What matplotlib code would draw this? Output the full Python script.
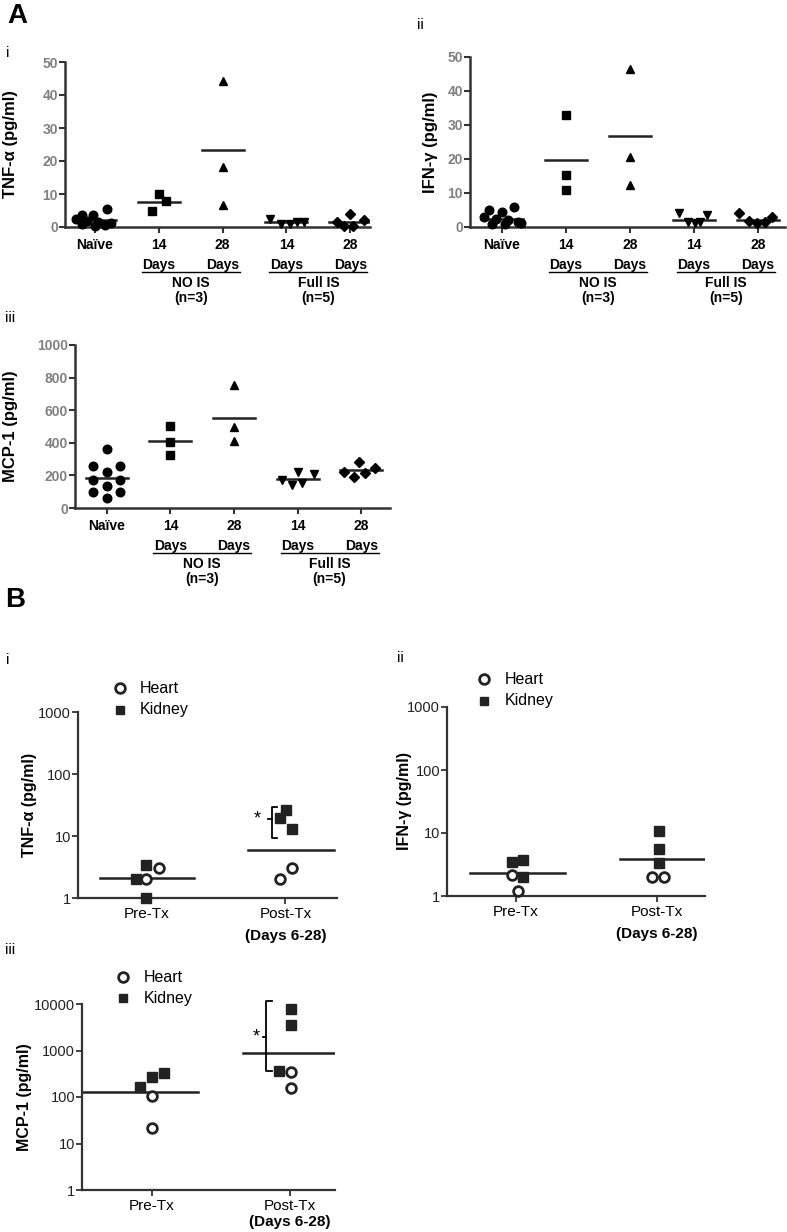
import numpy as np
import matplotlib
matplotlib.use("Agg")
import matplotlib.pyplot as plt
from matplotlib import transforms

plt.rcParams['font.family'] = ['Liberation Sans', 'DejaVu Sans']

# ---- panel A data (linear scale) ----
a_days = ["Naïve", "14", "28", "14", "28"]
a_markers = ['o', 's', '^', 'v', 'D']

tnf_a = [[3.6, 3.6, 5.4, 2.5, 1.8, 1.5, 1.2, 0.8, 0.3, 0.6],
         [4.85, 9.9, 7.8],
         [44.1, 18.2, 6.8],
         [2.3, 0.8, 1.0, 1.4, 1.6],
         [3.8, 1.5, 2.0, 0.2, 0.2]]
tnf_a_dx = [[-0.21, -0.03, 0.19, -0.30, -0.12, 0.05, 0.25, -0.2, 0.0, 0.15],
            [-0.10, 0.0, 0.11],
            [0, 0, 0],
            [-0.25, -0.08, 0.05, 0.17, 0.27],
            [0.0, -0.21, 0.21, -0.10, 0.05]]
tnf_a_line = [2.0, 7.7, 23.4, 1.5, 1.4]

ifn_a = [[5.0, 4.3, 5.8, 3.0, 2.5, 2.0, 1.5, 1.0, 0.8, 1.2],
         [33.0, 15.2, 10.8],
         [46.4, 20.6, 12.5],
         [4.0, 1.5, 1.2, 1.6, 3.4],
         [4.2, 1.8, 1.2, 1.5, 3.0]]
ifn_a_dx = [[-0.21, 0.0, 0.18, -0.28, -0.1, 0.1, 0.25, -0.15, 0.05, 0.3],
            [0, 0, 0],
            [0, 0, 0],
            [-0.24, -0.1, 0.02, 0.1, 0.2],
            [-0.3, -0.15, -0.02, 0.1, 0.22]]
ifn_a_line = [2.45, 19.8, 26.7, 2.2, 2.0]

mcp_a = [[362, 259, 255, 219, 172, 172, 135, 96, 96, 63],
         [500, 402, 327],
         [755, 499, 411],
         [172, 141, 223, 155, 207],
         [219, 188, 284, 213, 247]]
mcp_a_dx = [[0, -0.21, 0.21, 0, -0.21, 0.21, 0, -0.21, 0.21, 0],
            [0, 0, 0],
            [0, 0, 0],
            [-0.25, -0.09, 0, 0.06, 0.26],
            [-0.28, -0.12, -0.03, 0.05, 0.22]]
mcp_a_line = [184, 412, 555, 176, 233]

# ---- panel B data (log scale) ----
b_groups = ["Pre-Tx", "Post-Tx"]

tnf_heart = [[2.0, 3.0], [2.0, 3.0]]
tnf_heart_dx = [[0.0, 0.09], [-0.036, 0.048]]
tnf_kidney = [[2.0, 3.4, 1.0], [19.5, 25.8, 12.9]]
tnf_kidney_dx = [[-0.077, 0.0, 0.0], [-0.036, 0.007, 0.048]]
tnf_b_line = [2.1, 6.0]

ifn_heart = [[2.15, 1.2], [2.0, 2.0]]
ifn_heart_dx = [[-0.03, 0.012], [-0.035, 0.052]]
ifn_kidney = [[3.5, 3.7, 2.0], [10.8, 5.6, 3.4]]
ifn_kidney_dx = [[-0.03, 0.052, 0.052], [0.012, 0.012, 0.012]]
ifn_b_line = [2.3, 3.8]

mcp_heart = [[103, 22], [338, 155]]
mcp_heart_dx = [[0.0, 0.0], [0.007, 0.007]]
mcp_kidney = [[168, 264, 326], [7800, 3590, 366]]
mcp_kidney_dx = [[-0.085, 0.0, 0.085], [0.007, 0.007, -0.077]]
mcp_b_line = [127, 877]

W, H = 787, 1232
fig = plt.figure(figsize=(W / 100, H / 100), dpi=100)


def axes_px(l, r, t, b):
    return fig.add_axes([l / W, 1 - b / H, (r - l) / W, (b - t) / H])


def below(ax, x, dy, s, **kw):
    ax.annotate(s, xy=(x, 0), xycoords=ax.get_xaxis_transform(),
                xytext=(0, -dy * 0.72), textcoords='offset points',
                ha='center', va='center', annotation_clip=False, **kw)


def panel_a(ax, vals, dxs, lines, ymax, ystep, ylabel, xlim, labx):
    for i, (v, d) in enumerate(zip(vals, dxs)):
        ms = 5.2 if a_markers[i] == 'D' else 6.2
        ax.plot(np.array(d) + i, v, ls='none', marker=a_markers[i],
                ms=ms, color='black', clip_on=False, zorder=3)
        ax.plot([i - 0.33, i + 0.33], [lines[i], lines[i]], color='#222222',
                lw=1.8, zorder=2)
    ax.set_xlim(*xlim)
    ax.set_ylim(0, ymax)
    ax.set_yticks(np.arange(0, ymax + 1, ystep))
    ax.set_xticks(range(5))
    ax.set_xticklabels([])
    for s in ['top', 'right']:
        ax.spines[s].set_visible(False)
    for s in ['left', 'bottom']:
        ax.spines[s].set_color('#333333')
        ax.spines[s].set_linewidth(1.8)
    ax.tick_params(axis='y', colors='#333333', labelcolor='#808080',
                   labelsize=10, length=4, width=1.5, pad=1)
    ax.tick_params(axis='x', colors='#333333', length=4, width=1.5)
    for t in ax.get_yticklabels():
        t.set_fontweight('bold')
    ax.set_ylabel(ylabel, fontsize=12, fontweight='bold')
    ax.yaxis.set_label_coords(labx, 0.5)
    for i, d in enumerate(a_days):
        below(ax, i, 18, d, fontsize=10, fontweight='bold')
        if i > 0:
            below(ax, i, 38, "Days", fontsize=10, fontweight='bold')
    for c1, name in [(1, "NO IS"), (3, "Full IS")]:
        tr = transforms.offset_copy(ax.get_xaxis_transform(), fig=fig,
                                    y=-45 * 0.72, units='points')
        ax.plot([c1 - 0.27, c1 + 1.27], [0, 0], transform=tr, color='black',
                lw=1.0, clip_on=False)
        below(ax, c1 + 0.5, 56, name, fontsize=10, fontweight='bold')
        n = "(n=3)" if c1 == 1 else "(n=5)"
        below(ax, c1 + 0.5, 71, n, fontsize=10, fontweight='bold')


def bracket(ax, x, lo, hi, mid, starx):
    ax.plot([x + 0.04, x, x, x + 0.04], [hi, hi, lo, lo], color='black',
            lw=1.3, clip_on=False)
    ax.plot([x, x - 0.025], [mid, mid], color='black', lw=1.3)
    ax.text(starx, mid, "*", fontsize=13, ha='center', va='center')


def panel_b(ax, heart, heart_dx, kidney, kidney_dx, lines, spans, ymax,
            ylabel, xlim, labx, leg, dlow=38):
    for i in range(2):
        ax.plot(np.array(kidney_dx[i]) + i, kidney[i], ls='none', marker='s',
                ms=6.5, color='#222222', clip_on=False, zorder=3)
        ax.plot(np.array(heart_dx[i]) + i, heart[i], ls='none', marker='o',
                ms=7, mfc='white', mec='#222222', mew=2, clip_on=False, zorder=3)
        ax.plot([i + spans[i][0], i + spans[i][1]], [lines[i], lines[i]],
                color='#222222', lw=1.8, zorder=2)
    ax.set_yscale('log')
    ax.set_ylim(1, ymax)
    ticks = [10 ** k for k in range(int(np.log10(ymax)) + 1)]
    ax.set_yticks(ticks)
    ax.set_yticklabels([str(t) for t in ticks])
    ax.yaxis.set_minor_locator(matplotlib.ticker.NullLocator())
    ax.set_xlim(*xlim)
    ax.set_xticks([0, 1])
    ax.set_xticklabels([])
    for s in ['top', 'right']:
        ax.spines[s].set_visible(False)
    for s in ['left', 'bottom']:
        ax.spines[s].set_color('#333333')
        ax.spines[s].set_linewidth(1.6)
    ax.tick_params(axis='both', colors='#333333', labelcolor='#222222',
                   labelsize=10.5, length=4, width=1.3, pad=1)
    ax.set_ylabel(ylabel, fontsize=11.5, fontweight='bold')
    ax.yaxis.set_label_coords(labx, 0.5)
    below(ax, 0, 16, b_groups[0], fontsize=11)
    below(ax, 1, 16, b_groups[1], fontsize=11)
    below(ax, 1, dlow, "(Days 6-28)", fontsize=11, fontweight='bold')
    mx, tx, y1, y2 = leg
    ax.plot([mx], [y1], transform=ax.transAxes, marker='o', ms=7, mfc='white',
            mec='#222222', mew=2, clip_on=False)
    ax.plot([mx], [y2], transform=ax.transAxes, marker='s', ms=6,
            color='#222222', clip_on=False)
    ax.text(tx, y1, "Heart", transform=ax.transAxes, fontsize=11.5, va='center')
    ax.text(tx, y2, "Kidney", transform=ax.transAxes, fontsize=11.5, va='center')


# panel A
ax1 = axes_px(65, 370, 62, 227)
panel_a(ax1, tnf_a, tnf_a_dx, tnf_a_line, 50, 10, "TNF-α (pg/ml)",
        (-0.47, 4.31), -0.154)
ax2 = axes_px(470, 785, 57, 227)
panel_a(ax2, ifn_a, ifn_a_dx, ifn_a_line, 50, 10, "IFN-γ (pg/ml)",
        (-0.5, 4.42), -0.10)
ax3 = axes_px(75, 390, 345, 508)
panel_a(ax3, mcp_a, mcp_a_dx, mcp_a_line, 1000, 200, "MCP-1 (pg/ml)",
        (-0.5, 4.45), -0.181)

# panel B
ax4 = axes_px(78, 337, 712, 898)
panel_b(ax4, tnf_heart, tnf_heart_dx, tnf_kidney, tnf_kidney_dx, tnf_b_line,
        [(-0.33, 0.34), (-0.27, 0.35)], 1000, "TNF-α (pg/ml)", (-0.49, 1.37),
        -0.158, (0.162, 0.239, 1.129, 1.011))
bracket(ax4, 0.90, 9.2, 29.7, 19.1, 0.80)
ax5 = axes_px(447, 705, 707, 896)
panel_b(ax5, ifn_heart, ifn_heart_dx, ifn_kidney, ifn_kidney_dx, ifn_b_line,
        [(-0.33, 0.35), (-0.26, 0.34)], 1000, "IFN-γ (pg/ml)", (-0.49, 1.34),
        -0.136, (0.143, 0.225, 1.148, 1.032))
ax6 = axes_px(82, 335, 1004, 1190)
panel_b(ax6, mcp_heart, mcp_heart_dx, mcp_kidney, mcp_kidney_dx, mcp_b_line,
        [(-0.51, 0.33), (-0.34, 0.33)], 10000, "MCP-1 (pg/ml)", (-0.51, 1.33),
        -0.198, (0.162, 0.245, 1.145, 1.032), dlow=32)
bracket(ax6, 0.83, 366, 11500, 2000, 0.76)

# panel letters
fig.text(17 / W, 1 - 16 / H, "A", fontsize=20, fontweight='bold',
         ha='center', va='center')
fig.text(15 / W, 1 - 600 / H, "B", fontsize=20, fontweight='bold',
         ha='center', va='center')
for x, y, s in [(8, 53, "i"), (420, 25, "ii"), (10, 318, "iii"),
                (8, 660, "i"), (400, 658, "ii"), (10, 950, "iii")]:
    fig.text(x / W, 1 - y / H, s, fontsize=11, ha='center', va='center')

fig.savefig("out.png", dpi=100)
